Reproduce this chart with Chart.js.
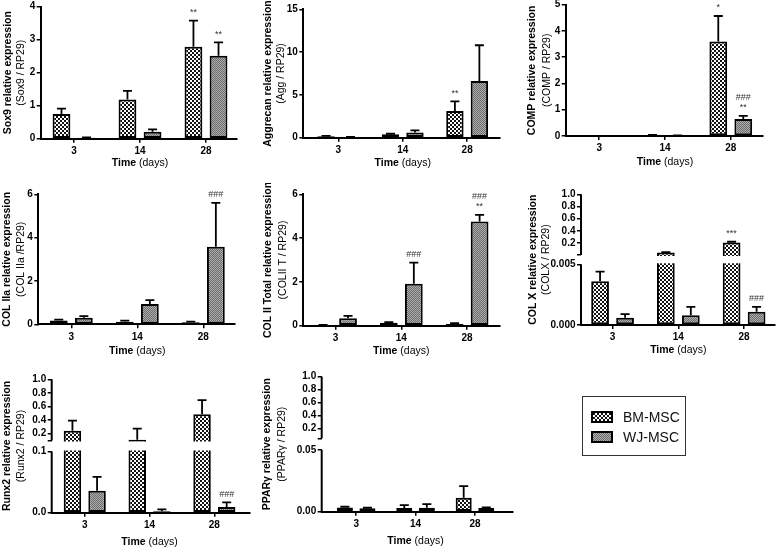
<!DOCTYPE html>
<html>
<head>
<meta charset="utf-8">
<script src="https://cdn.jsdelivr.net/npm/chart.js@4.4.1/dist/chart.umd.min.js"></script>
<style>
  body { margin: 0; width: 778px; height: 547px; position: relative; overflow: hidden; background: #fff;
         font-family: "Liberation Sans", Arial, sans-serif; }
  canvas.p { position: absolute; }
  #legend { position: absolute; left: 582px; top: 396px; width: 104px; height: 60px;
            border: 1px solid #333; box-sizing: border-box; }
  #legend .row { position: absolute; left: 8px; height: 12px; display: flex; align-items: center; }
  #legend .row span { margin-left: 10px; font-size: 14px; color: #111; }
</style>
</head>
<body>
<div id="legend">
  <div class="row" style="top:14px"><canvas id="swBM" width="22" height="12"></canvas><span>BM-MSC</span></div>
  <div class="row" style="top:34px"><canvas id="swWJ" width="22" height="12"></canvas><span>WJ-MSC</span></div>
</div>
<script>
const FONT = '"Liberation Sans", Arial, sans-serif';
const days = ['3', '14', '28'];

// values (mean, upper error, significance marks)
const sox9BM = [0.75, 1.19, 2.79];
const sox9BMErr = [0.16, 0.26, 0.79];
const sox9WJ = [0.03, 0.21, 2.51];
const sox9WJErr = [0.01, 0.07, 0.41];
const sox9BMSig = ['', '', '**'];
const sox9WJSig = ['', '', '**'];

const aggBM = [0.16, 0.4, 3.12];
const aggBMErr = [0.05, 0.06, 1.13];
const aggWJ = [0.08, 0.6, 6.62];
const aggWJErr = [0.02, 0.26, 4.18];
const aggBMSig = ['', '', '**'];
const aggWJSig = ['', '', ''];

const compBM = [0, 0.03, 3.6];
const compBMErr = [0, 0.01, 0.97];
const compWJ = [0, 0.02, 0.65];
const compWJErr = [0, 0.005, 0.12];
const compBMSig = ['', '', '*'];
const compWJSig = ['', '', '### **'];

const col2aBM = [0.17, 0.12, 0.09];
const col2aBMErr = [0.05, 0.05, 0.03];
const col2aWJ = [0.3, 0.94, 3.58];
const col2aWJErr = [0.08, 0.18, 2.02];
const col2aBMSig = ['', '', ''];
const col2aWJSig = ['', '', '###'];

const col2tBM = [0.03, 0.13, 0.08];
const col2tBMErr = [0.01, 0.03, 0.04];
const col2tWJ = [0.34, 1.91, 4.76];
const col2tWJErr = [0.11, 0.97, 0.3];
const col2tBMSig = ['', '', ''];
const col2tWJSig = ['', '###', '### **'];

const colxBM = [0.0036, 0.045, 0.21];
const colxBMErr = [0.0008, 0.005, 0.012];
const colxWJ = [0.0006, 0.0008, 0.0011];
const colxWJErr = [0.0003, 0.0007, 0.0004];
const colxBMSig = ['', '', '***'];
const colxWJSig = ['', '', '###'];

const runxBM = [0.242, 0.11, 0.487];
const runxBMErr = [0.15, 0.166, 0.206];
const runxWJ = [0.036, 0.0023, 0.0093];
const runxWJErr = [0.0225, 0.0032, 0.0077];
const runxBMSig = ['', '', ''];
const runxWJSig = ['', '', '###'];

const pparBM = [0.0035, 0.003, 0.0114];
const pparBMErr = [0.0005, 0.0024, 0.0094];
const pparWJ = [0.0027, 0.0032, 0.003];
const pparWJErr = [0.0005, 0.003, 0.0005];
const pparBMSig = ['', '', ''];
const pparWJSig = ['', '', ''];

const upperTicks = [0.2, 0.4, 0.6, 0.8, 1.0];

// y axis split in two parts: 0..lowMax below, lowMax..hiMax above
class BrokenScale extends Chart.LinearScale {
  static id = 'broken';
  static defaults = {};
  determineDataLimits() {
    this.min = 0;
    this.max = this.options.hiMax;
  }
  buildTicks() {
    const o = this.options;
    return [0, o.lowMax, o.lowMax * 1.001].concat(o.hiTicks).map(v => ({value: v}));
  }
  seg() {
    const part = (this.bottom - this.top - this.options.gap) / 2;
    return {lowTop: this.bottom - part, hiBottom: this.top + part};
  }
  getPixelForValue(v) {
    const o = this.options, s = this.seg(), hiMin = o.lowMax * 1.001;
    if (v <= o.lowMax) return this.bottom - v / o.lowMax * (this.bottom - s.lowTop);
    if (v < hiMin) return s.lowTop - (v - o.lowMax) / (hiMin - o.lowMax) * (s.lowTop - s.hiBottom);
    return s.hiBottom - (v - hiMin) / (o.hiMax - hiMin) * (s.hiBottom - this.top);
  }
  getValueForPixel(p) {
    const o = this.options, s = this.seg();
    if (p >= s.lowTop) return (this.bottom - p) / (this.bottom - s.lowTop) * o.lowMax;
    return o.lowMax + (s.hiBottom - p) / (s.hiBottom - this.top) * (o.hiMax - o.lowMax);
  }
}
Chart.register(BrokenScale);

function makeFill(cell, dark, light) {
  const c = document.createElement('canvas');
  c.width = c.height = cell * 2;
  const x = c.getContext('2d');
  x.fillStyle = light; x.fillRect(0, 0, cell * 2, cell * 2);
  x.fillStyle = dark; x.fillRect(0, 0, cell, cell); x.fillRect(cell, cell, cell, cell);
  return x.createPattern(c, 'repeat');
}
const bmFill = makeFill(2, '#111', '#fff');
const wjFill = makeFill(1, '#6c6c6c', '#adadad');

function swatch(id, fill) {
  const x = document.getElementById(id).getContext('2d');
  x.fillStyle = fill; x.fillRect(0, 0, 22, 12);
  x.strokeStyle = '#000'; x.lineWidth = 2; x.strokeRect(1, 1, 20, 10);
}
swatch('swBM', bmFill);
swatch('swWJ', wjFill);

const tickFont = {family: FONT, size: 10, weight: 'bold'};

function panelText(g, titles, series) {
  return {
    id: 'panelText',
    afterDatasetsDraw(chart) {
      const ctx = chart.ctx, a = chart.chartArea, y = chart.scales.y, x = chart.scales.x;
      ctx.save();
      if (y.seg) {
        const s = y.seg();
        ctx.fillStyle = '#fff';
        ctx.fillRect(a.left + 1.5, s.hiBottom + 1, a.right - a.left, s.lowTop - s.hiBottom - 2);
        ctx.strokeStyle = '#000'; ctx.lineWidth = 2;
        ctx.beginPath();
        ctx.moveTo(a.left, a.top); ctx.lineTo(a.left, s.hiBottom);
        ctx.moveTo(a.left, s.lowTop); ctx.lineTo(a.left, a.bottom + 1);
        ctx.stroke();
      }
      series.forEach((sr, di) => {
        chart.getDatasetMeta(di).data.forEach((bar, i) => {
          let top = bar.y;
          if (sr.err[i] > 0) {
            top = y.getPixelForValue(sr.val[i] + sr.err[i]);
            ctx.strokeStyle = '#000'; ctx.lineWidth = 1.8;
            ctx.beginPath();
            ctx.moveTo(bar.x, bar.y); ctx.lineTo(bar.x, top);
            ctx.moveTo(bar.x - 4.5, top); ctx.lineTo(bar.x + 4.5, top);
            ctx.stroke();
          }
          const marks = sr.sig[i] ? sr.sig[i].split(' ').reverse() : [];
          ctx.fillStyle = '#333'; ctx.font = '9px ' + FONT;
          ctx.textAlign = 'center'; ctx.textBaseline = 'middle';
          marks.forEach((m, k) => ctx.fillText(m, bar.x, top - 8 - 10 * k));
        });
      });
      // axis titles
      ctx.fillStyle = '#000';
      const cy = (a.top + a.bottom) / 2;
      [[titles[0], 'bold 10.5px ', g.t1], [titles[1], '10.5px ', g.t2]].forEach(([txt, f, tx]) => {
        ctx.save();
        ctx.translate(tx - g.L, cy);
        ctx.rotate(-Math.PI / 2);
        ctx.font = f + FONT; ctx.textAlign = 'center'; ctx.textBaseline = 'middle';
        ctx.fillText(txt, 0, 0);
        ctx.restore();
      });
      const cx = x.getPixelForValue(1);
      ctx.font = 'bold 10.5px ' + FONT;
      const w1 = ctx.measureText('Time ').width;
      ctx.font = '10.5px ' + FONT;
      const w2 = ctx.measureText('(days)').width;
      const x0 = cx - (w1 + w2) / 2, ty = g.xty - g.T;
      ctx.textAlign = 'left'; ctx.textBaseline = 'middle';
      ctx.font = 'bold 10.5px ' + FONT; ctx.fillText('Time', x0, ty);
      ctx.font = '10.5px ' + FONT; ctx.fillText('(days)', x0 + w1, ty);
      ctx.restore();
    }
  };
}

function panel(g, yOpts, titles, bm, bmErr, bmSig, wj, wjErr, wjSig) {
  const cv = document.createElement('canvas');
  cv.className = 'p';
  cv.style.left = g.L + 'px'; cv.style.top = g.T + 'px';
  cv.style.width = g.W + 'px'; cv.style.height = g.H + 'px';
  cv.width = g.W; cv.height = g.H;
  document.body.appendChild(cv);
  const axisLook = {
    grid: {display: true, drawOnChartArea: false, offset: false, tickLength: 4, color: '#000', lineWidth: 1.5},
    ticks: {font: tickFont, color: '#000', padding: 1.5, autoSkip: false, maxRotation: 0}
  };
  const y = Object.assign({}, axisLook, yOpts, {
    ticks: Object.assign({}, axisLook.ticks, yOpts.ticks || {}),
    afterFit: s => { s.width = g.ax - g.L; s.paddingTop = 0; s.paddingBottom = 0; }
  });
  new Chart(cv, {
    type: 'bar',
    data: {
      datasets: [
        {label: 'BM-MSC', data: bm.map((v, i) => ({x: i, y: v})), backgroundColor: bmFill,
         borderColor: '#000', borderWidth: 2, borderSkipped: false},
        {label: 'WJ-MSC', data: wj.map((v, i) => ({x: i, y: v})), backgroundColor: wjFill,
         borderColor: '#000', borderWidth: 2, borderSkipped: false}
      ]
    },
    options: {
      responsive: false, animation: false, events: [],
      categoryPercentage: 0.76, barPercentage: 0.71,
      layout: {padding: {left: 0, top: g.yt - g.T, right: g.L + g.W - g.xe, bottom: 0}},
      plugins: {legend: {display: false}, tooltip: {enabled: false}},
      scales: {
        x: Object.assign({}, axisLook, {
          type: 'linear', min: g.xmin, max: g.xmax, offset: false,
          afterBuildTicks: s => { s.ticks = days.map((d, i) => ({value: i})); },
          afterFit: s => { s.height = g.T + g.H - g.yz; s.paddingLeft = 0; s.paddingRight = 0; },
          ticks: Object.assign({}, axisLook.ticks, {callback: v => days[v], padding: 2.5}),
          border: {display: true, color: '#000', width: 2}
        }),
        y: y
      }
    },
    plugins: [panelText(g, titles, [
      {val: bm, err: bmErr, sig: bmSig},
      {val: wj, err: wjErr, sig: wjSig}
    ])]
  });
}

function linearY(max, step) {
  return {type: 'linear', min: 0, max: max, ticks: {stepSize: step}, border: {display: true, color: '#000', width: 2}};
}
function brokenY(lowMax, gap, lowLabels) {
  return {
    type: 'broken', lowMax: lowMax, hiMax: 1, gap: gap, hiTicks: upperTicks,
    border: {display: false},
    ticks: {callback: (v, i) => i < 2 ? lowLabels[i] : (i === 2 ? '' : v.toFixed(1))}
  };
}

panel({L: 0, T: 0, W: 250, H: 172, ax: 40.7, xe: 237, yt: 6.7, yz: 138.7, xmin: -0.505, xmax: 2.47,
       t1: 8, t2: 21.5, xty: 163.3},
      linearY(4, 1), ['Sox9 relative expression', '(Sox9 / RP29)'],
      sox9BM, sox9BMErr, sox9BMSig, sox9WJ, sox9WJErr, sox9WJSig);

panel({L: 258, T: 0, W: 250, H: 172, ax: 303.3, xe: 500, yt: 9.3, yz: 137.7, xmin: -0.543, xmax: 2.51,
       t1: 268, t2: 281.5, xty: 163.3},
      linearY(15, 5), ['Aggrecan relative expression', '(Agg / RP29)'],
      aggBM, aggBMErr, aggBMSig, aggWJ, aggWJErr, aggWJSig);

panel({L: 520, T: 0, W: 258, H: 172, ax: 565.7, xe: 763, yt: 4.7, yz: 136, xmin: -0.51, xmax: 2.49,
       t1: 532, t2: 547.5, xty: 162.3},
      linearY(5, 1), ['COMP relative expression', '(COMP / RP29)'],
      compBM, compBMErr, compBMSig, compWJ, compWJErr, compWJSig);

panel({L: 0, T: 183, W: 250, H: 175, ax: 38.3, xe: 235, yt: 194.3, yz: 324.3, xmin: -0.5, xmax: 2.48,
       t1: 7.3, t2: 21.5, xty: 350.7},
      linearY(6, 2), ['COL IIa relative expression', '(COL IIa /RP29)'],
      col2aBM, col2aBMErr, col2aBMSig, col2aWJ, col2aWJErr, col2aWJSig);

panel({L: 258, T: 183, W: 250, H: 175, ax: 303.3, xe: 500, yt: 194.3, yz: 325.7, xmin: -0.49, xmax: 2.5,
       t1: 268.3, t2: 283, xty: 350.7},
      linearY(6, 2), ['COL II Total relative expression', '(COLII T / RP29)'],
      col2tBM, col2tBMErr, col2tBMSig, col2tWJ, col2tWJErr, col2tWJSig);

panel({L: 520, T: 183, W: 258, H: 175, ax: 581, xe: 775, yt: 194.3, yz: 325, xmin: -0.48, xmax: 2.47,
       t1: 533.5, t2: 546.5, xty: 350},
      brokenY(0.005, 9.3, ['0.000', '0.005']), ['COL X relative expression', '(COLX / RP29)'],
      colxBM, colxBMErr, colxBMSig, colxWJ, colxWJErr, colxWJSig);

panel({L: 0, T: 368, W: 258, H: 179, ax: 51.7, xe: 250, yt: 379.3, yz: 512.7, xmin: -0.51, xmax: 2.55,
       t1: 7.3, t2: 20.7, xty: 541.7},
      brokenY(0.1, 11, ['0.0', '0.1']), ['Runx2 relative expression', '(Runx2 / RP29)'],
      runxBM, runxBMErr, runxBMSig, runxWJ, runxWJErr, runxWJSig);

panel({L: 258, T: 368, W: 262, H: 179, ax: 321.7, xe: 513, yt: 376.7, yz: 511.7, xmin: -0.58, xmax: 2.64,
       t1: 267.3, t2: 281.7, xty: 541},
      brokenY(0.05, 11.7, ['0.00', '0.05']), ['PPARγ relative expression', '(PPARγ / RP29)'],
      pparBM, pparBMErr, pparBMSig, pparWJ, pparWJErr, pparWJSig);
</script>
</body>
</html>
